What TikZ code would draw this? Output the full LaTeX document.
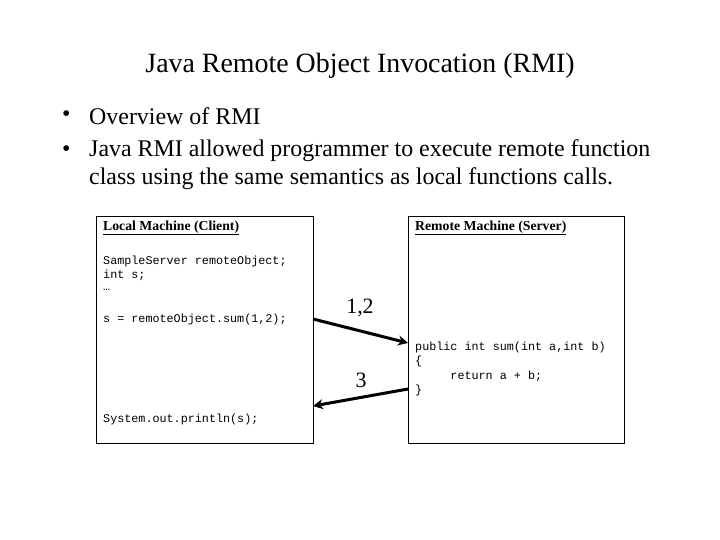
\documentclass[tikz,border=0pt]{standalone}
\usepackage{fontspec}
\setmainfont{Liberation Serif}
\setmonofont{Liberation Mono}
\usetikzlibrary{arrows.meta}
\begin{document}
\begin{tikzpicture}[x=1bp,y=-1bp,
  box/.style={draw,line width=0.8bp},
  code/.style={anchor=west,inner sep=0,font=\ttfamily\fontsize{11.8}{13}\selectfont},
  head/.style={anchor=west,inner sep=0,font=\bfseries\fontsize{13.8}{15}\selectfont},
  big/.style={inner sep=0,font=\fontsize{24}{28}\selectfont},
  arr/.style={line width=3bp,-{Stealth[length=10bp,width=10bp]}}]
\useasboundingbox (0,0) rectangle (720,540);
\node[font=\fontsize{28}{32}\selectfont] (title) at (360,66) {Java Remote Object Invocation (RMI)};
\node[big,anchor=west] (b1) at (62,116) {•};
\node[big,anchor=west] (t1) at (89,116) {Overview of RMI};
\node[big,anchor=west] (b2) at (62,151) {•};
\node[big,anchor=west] (t2) at (89,151) {Java RMI allowed programmer to execute remote function};
\node[big,anchor=west] (t3) at (89,179) {class using the same semantics as local functions calls.};
\draw[box] (96,216) rectangle (313,443);
\draw[box] (408,216) rectangle (624,443);
\node[head] (lh) at (103,228) {\underline{Local Machine (Client)}};
\node[code] (l1) at (103,261) {SampleServer remoteObject;};
\node[code] (l2) at (103,275) {int s;};
\node[code] (l3) at (103,290) {…};
\node[code] (l4) at (103,319) {s = remoteObject.sum(1,2);};
\node[code] (l5) at (103,419) {System.out.println(s);};
\node[head] (rh) at (415,228) {\underline{Remote Machine (Server)}};
\node[code] (r1) at (415,347) {public int sum(int a,int b)};
\node[code] (r2) at (415,361) {\{};
\node[code] (r3) at (415,376) {\ \ \ \ \ return a + b;};
\node[code] (r4) at (415,390) {\}};
\coordinate (a1s) at (313,319);
\coordinate (a1e) at (408,343);
\coordinate (a2s) at (408,389);
\coordinate (a2e) at (313,406);
\draw[arr] (a1s) -- (a1e);
\draw[arr] (a2s) -- (a2e);
\node[big,font=\fontsize{22}{26}\selectfont] (n12) at (360,308) {1,2};
\node[big,font=\fontsize{22}{26}\selectfont] (n3) at (361,380) {3};
\end{tikzpicture}
\end{document}
